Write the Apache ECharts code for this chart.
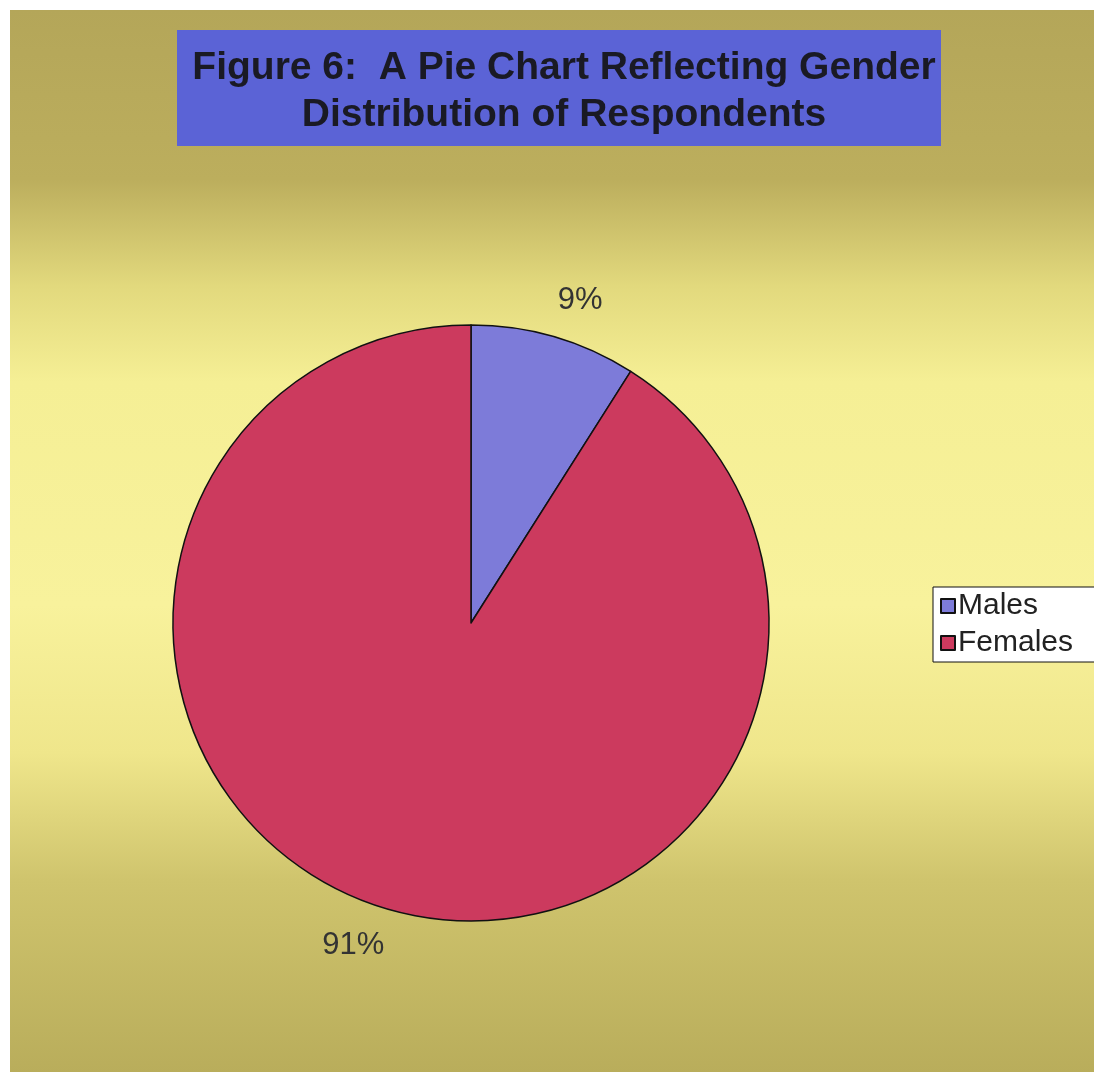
<!DOCTYPE html>
<html>
<head>
<meta charset="utf-8">
<style>
html, body { margin: 0; padding: 0; background: #ffffff; }
#chart { width: 1094px; height: 1072px; }
</style>
<script src="https://cdn.jsdelivr.net/npm/echarts@6/dist/echarts.min.js"></script>
</head>
<body>
<div id="chart"></div>
<script>
// ---- data ----
const titleLines = ['Figure 6:  A Pie Chart Reflecting Gender', 'Distribution of Respondents'];
const categories = ['Males', 'Females'];
const percentValues = [9, 91];
const sliceColors = ['#7d7bd9', '#cc3a5e'];

const chart = echarts.init(document.getElementById('chart'), null, { renderer: 'canvas' });

const pieData = categories.map((name, i) => ({
  name: name,
  value: percentValues[i],
  itemStyle: { color: sliceColors[i] }
}));

const option = {
  backgroundColor: '#ffffff',
  animation: false,
  graphic: [
    {
      type: 'rect',
      z: -10,
      shape: { x: 10, y: 10, width: 1084, height: 1062 },
      style: {
        fill: new echarts.graphic.LinearGradient(0, 0, 0, 1, [
          { offset: 0.0, color: '#b4a659' },
          { offset: 0.16, color: '#bcae5d' },
          { offset: 0.26, color: '#e2d97d' },
          { offset: 0.35, color: '#f5ef95' },
          { offset: 0.56, color: '#f8f29c' },
          { offset: 0.70, color: '#efe68b' },
          { offset: 0.82, color: '#cfc46d' },
          { offset: 1.0, color: '#b9ad5b' }
        ])
      }
    },
    {
      type: 'rect',
      z: -5,
      shape: { x: 177, y: 30, width: 764, height: 116 },
      style: { fill: '#5b63d6' }
    }
  ],
  title: {
    text: titleLines.join('\n'),
    left: 559,
    top: 40,
    textAlign: 'center',
    textStyle: {
      fontFamily: 'Liberation Sans, Arial, sans-serif',
      fontWeight: 'bold',
      fontSize: 39,
      lineHeight: 47,
      color: '#1a1a24'
    }
  },
  legend: {
    orient: 'vertical',
    left: 933,
    top: 587,
    backgroundColor: '#ffffff',
    borderColor: '#111111',
    borderWidth: 1,
    padding: [4, 40, 4, 7],
    itemWidth: 14,
    itemHeight: 14,
    itemGap: 7,
    icon: 'rect',
    textStyle: {
      fontFamily: 'Liberation Sans, Arial, sans-serif',
      fontSize: 30,
      color: '#222222',
      padding: [0, 0, 0, -2]
    },
    data: categories
  },
  series: [
    {
      type: 'pie',
      center: [471, 623],
      radius: 298,
      startAngle: 90,
      clockwise: true,
      avoidLabelOverlap: false,
      itemStyle: { borderColor: '#111111', borderWidth: 1.5 },
      label: {
        show: true,
        position: 'outside',
        formatter: '{c}%',
        fontFamily: 'Liberation Sans, Arial, sans-serif',
        fontSize: 31,
        color: '#333333'
      },
      labelLine: { show: false, length: 38, length2: -12 },
      emphasis: { disabled: true },
      data: pieData
    }
  ]
};

chart.setOption(option);
</script>
</body>
</html>
